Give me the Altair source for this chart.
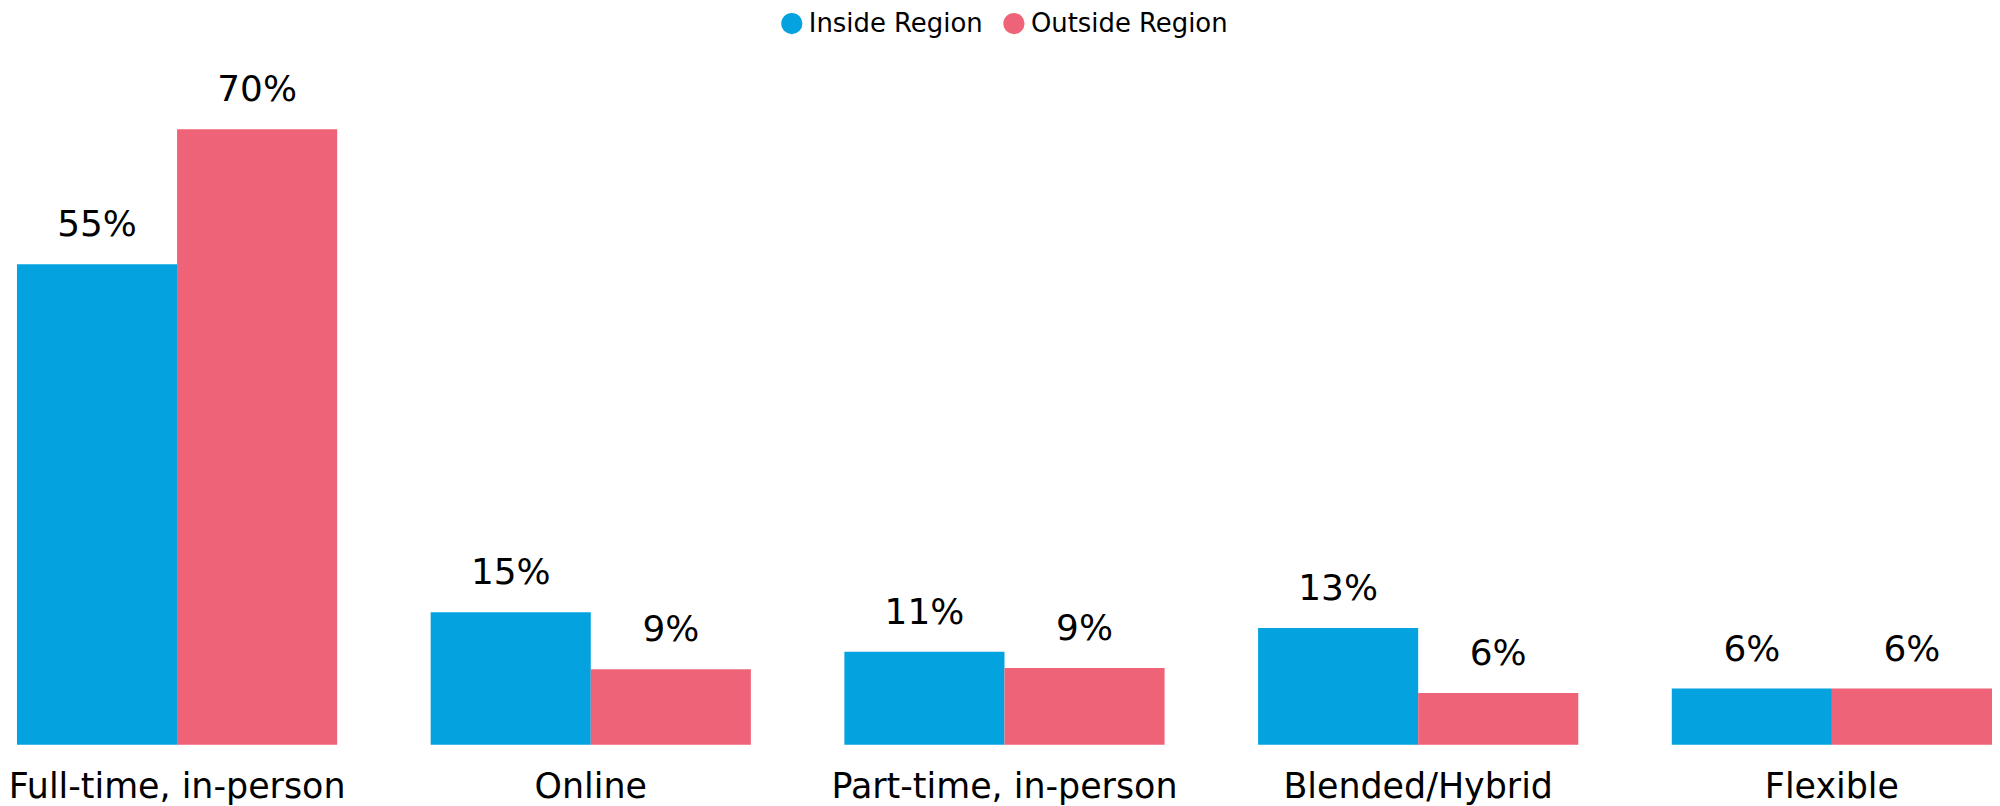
import altair as alt
import pandas as pd

categories = ["Full-time, in-person", "Online", "Part-time, in-person", "Blended/Hybrid", "Flexible"]
series = ["Inside Region", "Outside Region"]
inside = [54.8, 15.1, 10.6, 13.3, 6.4]
outside = [70.2, 8.6, 8.75, 5.9, 6.4]
colors = ["#04A2DF", "#EF6379"]

rows = []
for c, a, b in zip(categories, inside, outside):
    rows.append({"category": c, "series": series[0], "value": a})
    rows.append({"category": c, "series": series[1], "value": b})
df = pd.DataFrame(rows)

FONT = "DejaVu Sans"

x = alt.X("category:N", sort=categories, title=None,
          scale=alt.Scale(paddingInner=0.226, paddingOuter=0),
          axis=alt.Axis(labelAngle=0, domain=False, ticks=False, grid=False,
                        labelFont=FONT, labelFontSize=35, labelColor="#000",
                        labelPadding=25, labelBaseline="top", labelLimit=0))
xo = alt.XOffset("series:N", sort=series, scale=alt.Scale(paddingInner=0, paddingOuter=0))
y = alt.Y("value:Q", scale=alt.Scale(domain=[0, 80], nice=False, zero=True), axis=None)

base = alt.Chart(df)

bars = base.mark_bar().encode(
    x=x, xOffset=xo, y=y,
    color=alt.Color("series:N", sort=series,
                    scale=alt.Scale(domain=series, range=colors),
                    legend=alt.Legend(orient="none", legendX=765, legendY=-33,
                                      direction="horizontal", title=None,
                                      symbolType="circle", symbolSize=452,
                                      symbolStrokeWidth=0, symbolOpacity=1,
                                      labelFont=FONT, labelFontSize=26,
                                      labelColor="#000", labelOffset=4,
                                      labelLimit=0,
                                      columnPadding=18, padding=0)),
)

labels = base.mark_text(font=FONT, fontSize=36, color="#000", dy=-28,
                        baseline="alphabetic", align="center").encode(
    x=x, xOffset=xo, y=y,
    text=alt.Text("label:N"),
).transform_calculate(label="format(datum.value, '.0f') + '%'")

chart = alt.layer(bars, labels).properties(
    width=1983, height=704,
    autosize=alt.AutoSizeParams(type="none"),
    padding={"left": 9, "top": 34, "right": 0, "bottom": 60},
).configure_view(strokeWidth=0)

chart.save("out.html", embed_options={"renderer": "svg", "actions": False})
